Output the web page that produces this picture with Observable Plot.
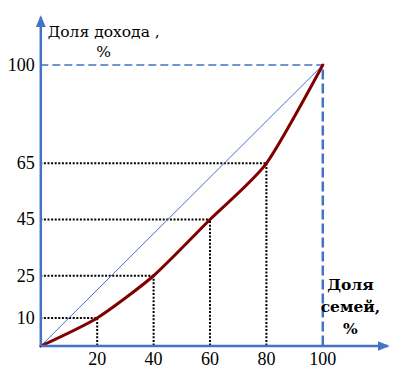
<!DOCTYPE html>
<html>
<head>
<meta charset="utf-8">
<script src="https://cdn.jsdelivr.net/npm/d3@7"></script>
<script src="https://cdn.jsdelivr.net/npm/@observablehq/plot@0.6"></script>
<style>
  html, body { margin: 0; padding: 0; background: #fff; }
</style>
</head>
<body>
<div id="chart"></div>
<script>
// Lorenz curve data
const shareFamilies = [0, 20, 40, 60, 80, 100];
const shareIncome = [0, 10, 25, 45, 65, 100];
const xTicks = [20, 40, 60, 80, 100];
const yTicks = [10, 25, 45, 65, 100];
const yAxisLabel = "Доля дохода ,\n%";
const xAxisLabel = "Доля\nсемей,\n%";

const points = shareFamilies.map((x, i) => ({x, y: shareIncome[i]}));
const guidePoints = points.filter(d => d.x > 0 && d.x < 100);
const fullPoint = points.filter(d => d.x === 100);
const axisArrows = [
  {x1: 0, y1: 0, x2: 123, y2: 0},
  {x1: 0, y1: 0, x2: 0, y2: 117}
];

const blue = "#4472c4";
const red = "#800000";
const serif = "Liberation Serif";
const serifCyr = "DejaVu Serif";

const plot = Plot.plot({
  width: 406,
  height: 371,
  marginLeft: 40.3,
  marginRight: 83.7,
  marginTop: 64.5,
  marginBottom: 25.5,
  x: {domain: [0, 100]},
  y: {domain: [0, 100]},
  style: {fontFamily: serif, fontSize: "18px", background: "#fff", color: "#000"},
  marks: [
    // dotted guides
    Plot.ruleY(guidePoints, {y: "y", x1: 0, x2: "x", stroke: "#000", strokeWidth: 2, strokeDasharray: "2,1.6"}),
    Plot.ruleX(guidePoints, {x: "x", y1: 0, y2: "y", stroke: "#000", strokeWidth: 2, strokeDasharray: "2,1.6"}),
    // dashed guides at 100
    Plot.ruleY(fullPoint, {y: "y", x1: 0, x2: "x", stroke: blue, strokeWidth: 1.5, strokeDasharray: "8,4"}),
    Plot.ruleX(fullPoint, {x: "x", y1: 0, y2: "y", stroke: blue, strokeWidth: 2.5, strokeDasharray: "10,4"}),
    // equality line
    Plot.line([points[0], points[points.length - 1]], {x: "x", y: "y", stroke: blue, strokeWidth: 1}),
    // Lorenz curve
    Plot.line(points, {x: "x", y: "y", stroke: red, strokeWidth: 3, curve: d3.curveCardinal.tension(0.35)}),
    // axes with arrows
    Plot.link(axisArrows, {x1: "x1", y1: "y1", x2: "x2", y2: "y2", stroke: blue, strokeWidth: 2.5}),
    Plot.axisX(xTicks, {tickSize: 0, tickPadding: 6, fontSize: 18, fontFamily: serif, fill: "#000"}),
    Plot.axisY(yTicks, {tickSize: 0, tickPadding: 6, fontSize: 18, fontFamily: serif, fill: "#000"}),
    // axis titles
    Plot.text([yAxisLabel], {x: 22.3, y: 108.6, text: d => d, fontSize: 15.5, fontFamily: serifCyr, lineHeight: 1.27, fill: "#000"}),
    Plot.text([xAxisLabel], {x: 109.8, y: 14.6, text: d => d, fontSize: 15.5, fontFamily: serifCyr, lineHeight: 1.42, fontWeight: "bold", fill: "#000"})
  ]
});

// filled triangle arrowheads on the axis lines
const svg = d3.select(plot);
const defs = svg.insert("defs", ":first-child");
defs.append("marker")
  .attr("id", "axis-head")
  .attr("viewBox", "0 0 12 10")
  .attr("refX", 10)
  .attr("refY", 5)
  .attr("markerWidth", 12)
  .attr("markerHeight", 10)
  .attr("markerUnits", "userSpaceOnUse")
  .attr("orient", "auto")
  .append("path")
  .attr("d", "M0,0L12,5L0,10Z")
  .attr("fill", blue);
svg.selectAll('g[aria-label="link"] path').attr("marker-end", "url(#axis-head)");

document.getElementById("chart").appendChild(plot);
</script>
</body>
</html>
